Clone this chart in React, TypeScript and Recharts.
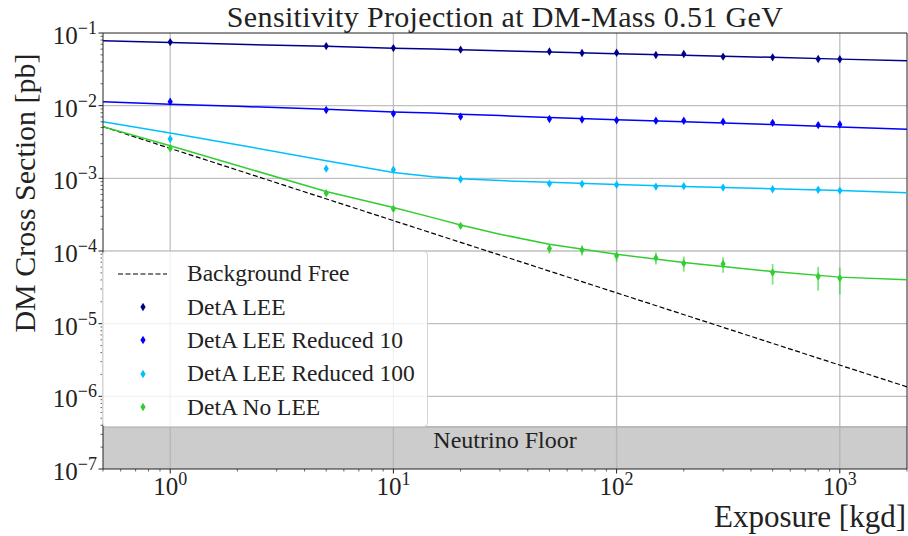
import {
  ComposedChart,
  ErrorBar,
  Legend,
  Line,
  ReferenceArea,
  ReferenceLine,
  Scatter,
  XAxis,
  YAxis,
} from "recharts";

const FONT = '"Liberation Serif", "DejaVu Serif", serif';

// measured exposures [kgd]
const exposures = [1, 5, 10, 20, 50, 70, 100, 150, 200, 300, 500, 800, 1000];

const leeValues = [0.075, 0.066, 0.062, 0.059, 0.0557, 0.053, 0.0536, 0.0498, 0.0514, 0.0473, 0.0462, 0.0439, 0.0435];
const leeErrors = [0.002, 0.002, 0.002, 0.0018, 0.0018, 0.0018, 0.0017, 0.0017, 0.0017, 0.0016, 0.0016, 0.0016, 0.0016];

const red10Values = [0.0113, 0.00873, 0.00776, 0.00706, 0.00656, 0.00646, 0.0063, 0.0062, 0.0062, 0.006, 0.0058, 0.0054, 0.0055];
const red10Errors = [0.0003, 0.00025, 0.00022, 0.0002, 0.0002, 0.0002, 0.0002, 0.0002, 0.0002, 0.0002, 0.0002, 0.0002, 0.0002];

const red100Values = [0.00348, 0.00136, 0.00131, 0.00097, 0.000845, 0.000835, 0.000813, 0.000769, 0.00078, 0.000746, 0.000708, 0.000697, 0.000678];
const red100Errors = [0.0002, 0.00006, 0.00005, 0.00004, 0.00003, 0.00003, 0.00003, 0.00003, 0.00003, 0.00003, 0.00003, 0.00003, 0.00003];

const noLeeValues = [0.0026, 0.000624, 0.00038, 0.000222, 0.000108, 0.000103, 0.0000857, 0.0000803, 0.0000679, 0.0000663, 0.0000505, 0.0000445, 0.0000423];
const noLeeErrors = [0.0001, 0.00003, 0.00002, 0.000016, 0.000016, 0.000016, 0.000015, 0.000015, 0.000016, 0.000016, 0.000016, 0.000016, 0.000017];

// fitted curves
const fitExposures = [0.5, 1, 2, 5, 10, 15, 20, 30, 50, 100, 200, 500, 1000, 2000];
const leeFit = [0.078, 0.0738, 0.07, 0.0655, 0.0618, 0.06, 0.0588, 0.057, 0.0548, 0.0518, 0.0493, 0.0462, 0.0437, 0.0416];
const red10Fit = [0.0113, 0.0105, 0.0098, 0.0089, 0.0082, 0.0079, 0.0076, 0.0073, 0.0069, 0.0064, 0.006, 0.0055, 0.0051, 0.00473];
const red100Fit = [0.00603, 0.0042, 0.0029, 0.00174, 0.0012, 0.00105, 0.00099, 0.00093, 0.00088, 0.00082, 0.00077, 0.00072, 0.00068, 0.000635];
const noLeeFit = [0.00514, 0.0028, 0.0015, 0.00066, 0.000398, 0.000288, 0.000228, 0.00017, 0.000124, 0.00009, 0.0000692, 0.0000521, 0.0000437, 0.0000401];

const backgroundFreeExposures = [0.5, 2000];
const backgroundFreeValues = [0.00515, 1.35e-6];

const neutrinoFloor = [1e-7, 3.8e-7];

const xMajorTicks = [1, 10, 100, 1000];
const yMajorTicks = [1e-7, 1e-6, 1e-5, 1e-4, 1e-3, 1e-2, 1e-1];
const xDecades = [0.1, 1, 10, 100, 1000];

const series = [
  { name: "DetA LEE", color: "#00008b", values: leeValues, errors: leeErrors, fit: leeFit },
  { name: "DetA LEE Reduced 10", color: "#0000ff", values: red10Values, errors: red10Errors, fit: red10Fit },
  { name: "DetA LEE Reduced 100", color: "#00bfff", values: red100Values, errors: red100Errors, fit: red100Fit },
  { name: "DetA No LEE", color: "#32cd32", values: noLeeValues, errors: noLeeErrors, fit: noLeeFit },
];

function withMinor(decades: number[], lo: number, hi: number) {
  const out: number[] = [];
  decades.forEach((d) => {
    for (let m = 1; m < 10; m++) {
      const v = m * d;
      if (v >= lo * 0.999 && v <= hi * 1.001) out.push(v);
    }
  });
  return out;
}

const xTicks = withMinor(xDecades, 0.5, 2000);
const yTicks = withMinor(yMajorTicks.slice(0, -1), 1e-7, 1e-1).concat([1e-1]);

function expLabel(v: number) {
  const e = Math.round(Math.log10(v));
  return e < 0 ? `\u2212${-e}` : `${e}`;
}

function XTick({ x, y, payload }: any) {
  const major = xMajorTicks.includes(payload.value);
  return (
    <g>
      <line x1={x} x2={x} y1={y} y2={y + (major ? 4.5 : 2.5)} stroke="#222" strokeWidth={major ? 1 : 0.7} />
      {major && (
        <text x={x} y={y + 26} textAnchor="middle" fontFamily={FONT} fontSize={25} fill="#222">
          10<tspan dy={-10} fontSize={18}>{expLabel(payload.value)}</tspan>
        </text>
      )}
    </g>
  );
}

function YTick({ x, y, payload }: any) {
  const major = yMajorTicks.includes(payload.value);
  return (
    <g>
      <line x1={x} x2={x - (major ? 4.5 : 2.5)} y1={y} y2={y} stroke="#222" strokeWidth={major ? 1 : 0.7} />
      {major && (
        <text x={x - 6} y={y + 11} textAnchor="end" fontFamily={FONT} fontSize={25} fill="#222">
          10<tspan dy={-10} fontSize={18}>{expLabel(payload.value)}</tspan>
        </text>
      )}
    </g>
  );
}

function Diamond({ cx, cy, fill }: any) {
  return <polygon points={`${cx},${cy - 4.2} ${cx + 2.6},${cy} ${cx},${cy + 4.2} ${cx - 2.6},${cy}`} fill={fill} />;
}

function LegendBox() {
  const rows = [{ name: "Background Free", color: "#000", dashed: true }].concat(
    series.map((s) => ({ name: s.name, color: s.color, dashed: false }))
  );
  return (
    <div
      style={{
        boxSizing: "border-box",
        width: 326,
        height: 176,
        paddingTop: 5,
        background: "rgba(255,255,255,0.8)",
        border: "1px solid #d4d4d4",
        borderRadius: 4,
        fontFamily: FONT,
        fontSize: 23.5,
        color: "#222",
      }}
    >
      {rows.map((r) => (
        <div key={r.name} style={{ display: "flex", alignItems: "center", height: 33.4 }}>
          <svg width={84} height={20} style={{ flex: "none" }}>
            {r.dashed ? (
              <line x1={15} x2={64} y1={10} y2={10} stroke="#000" strokeWidth={1.2} strokeDasharray="5 2.5" />
            ) : (
              <Diamond cx={40} cy={10} fill={r.color} />
            )}
          </svg>
          <span style={{ whiteSpace: "nowrap" }}>{r.name}</span>
        </div>
      ))}
    </div>
  );
}

export default function App() {
  const bgData = backgroundFreeExposures.map((x, i) => ({ x, y: backgroundFreeValues[i] }));

  return (
    <div style={{ position: "absolute", left: 0, top: 0, width: 908, height: 536, background: "#fff" }}>
      <div
        style={{
          position: "absolute",
          left: 103,
          width: 804,
          top: 0,
          lineHeight: "normal",
          textAlign: "center",
          fontFamily: FONT,
          fontSize: 30,
          letterSpacing: 0.35,
          color: "#222",
          whiteSpace: "nowrap",
        }}
      >
        Sensitivity Projection at DM-Mass 0.51 GeV
      </div>
      <ComposedChart width={908} height={536} margin={{ top: 33, right: 1, bottom: 0, left: 0 }}>
        <XAxis
          dataKey="x"
          type="number"
          scale="log"
          domain={[0.5, 2000]}
          allowDataOverflow
          ticks={xTicks}
          interval={0}
          tick={<XTick />}
          tickLine={false}
          tickSize={0}
          tickMargin={0}
          height={67}
          axisLine={{ stroke: "#222" }}
          label={{
            content: () => (
              <text x={906} y={527} textAnchor="end" fontFamily={FONT} fontSize={31} fill="#222">
                Exposure [kgd]
              </text>
            ),
          }}
        />
        <YAxis
          dataKey="y"
          type="number"
          scale="log"
          domain={[1e-7, 1e-1]}
          allowDataOverflow
          ticks={yTicks}
          interval={0}
          tick={<YTick />}
          tickLine={false}
          tickSize={0}
          tickMargin={0}
          width={103}
          axisLine={{ stroke: "#222" }}
          label={{
            content: () => (
              <text
                transform="rotate(-90)"
                x={-193}
                y={35}
                textAnchor="middle"
                fontFamily={FONT}
                fontSize={30}
                fill="#222"
              >
                DM Cross Section [pb]
              </text>
            ),
          }}
        />
        <ReferenceArea
          y1={neutrinoFloor[0]}
          y2={neutrinoFloor[1]}
          fill="#cccccc"
          fillOpacity={1}
          stroke="none"
          label={{
            content: (p: any) => (
              <text
                x={p.viewBox.x + p.viewBox.width / 2}
                y={p.viewBox.y + 21}
                textAnchor="middle"
                fontFamily={FONT}
                fontSize={24}
                fill="#222"
              >
                Neutrino Floor
              </text>
            ),
          }}
        />
        <ReferenceLine y={neutrinoFloor[1]} stroke="#9a9a9a" strokeWidth={1} />
        {xMajorTicks.map((v) => (
          <ReferenceLine key={`gx${v}`} x={v} stroke="#b0b0b0" strokeOpacity={0.8} strokeWidth={1.3} />
        ))}
        {yMajorTicks.slice(1, -1).map((v) => (
          <ReferenceLine key={`gy${v}`} y={v} stroke="#b0b0b0" strokeOpacity={0.8} strokeWidth={1.3} />
        ))}
        <ReferenceLine y={1e-1} stroke="#222" strokeWidth={1} />
        <ReferenceLine x={2000} stroke="#222" strokeWidth={1} />

        <Line
          data={bgData}
          dataKey="y"
          stroke="#000"
          strokeWidth={1.2}
          strokeDasharray="5 2.5"
          dot={false}
          isAnimationActive={false}
        />
        {series.map((s) => (
          <Line
            key={`fit-${s.name}`}
            data={fitExposures.map((x, i) => ({ x, y: s.fit[i] }))}
            dataKey="y"
            stroke={s.color}
            strokeWidth={1.5}
            dot={false}
            isAnimationActive={false}
          />
        ))}
        {series.map((s) => (
          <Scatter
            key={`pts-${s.name}`}
            name={s.name}
            data={exposures.map((x, i) => ({ x, y: s.values[i], err: s.errors[i] }))}
            dataKey="y"
            fill={s.color}
            shape={<Diamond />}
            isAnimationActive={false}
          >
            <ErrorBar dataKey="err" direction="y" width={0} stroke={s.color} strokeOpacity={0.6} strokeWidth={1.8} />
          </Scatter>
        ))}
        <Legend
          layout="vertical"
          align="center"
          verticalAlign="middle"
          content={() => <LegendBox />}
          wrapperStyle={{ left: 102, top: 251, width: 326, height: 176 }}
        />
      </ComposedChart>
    </div>
  );
}
